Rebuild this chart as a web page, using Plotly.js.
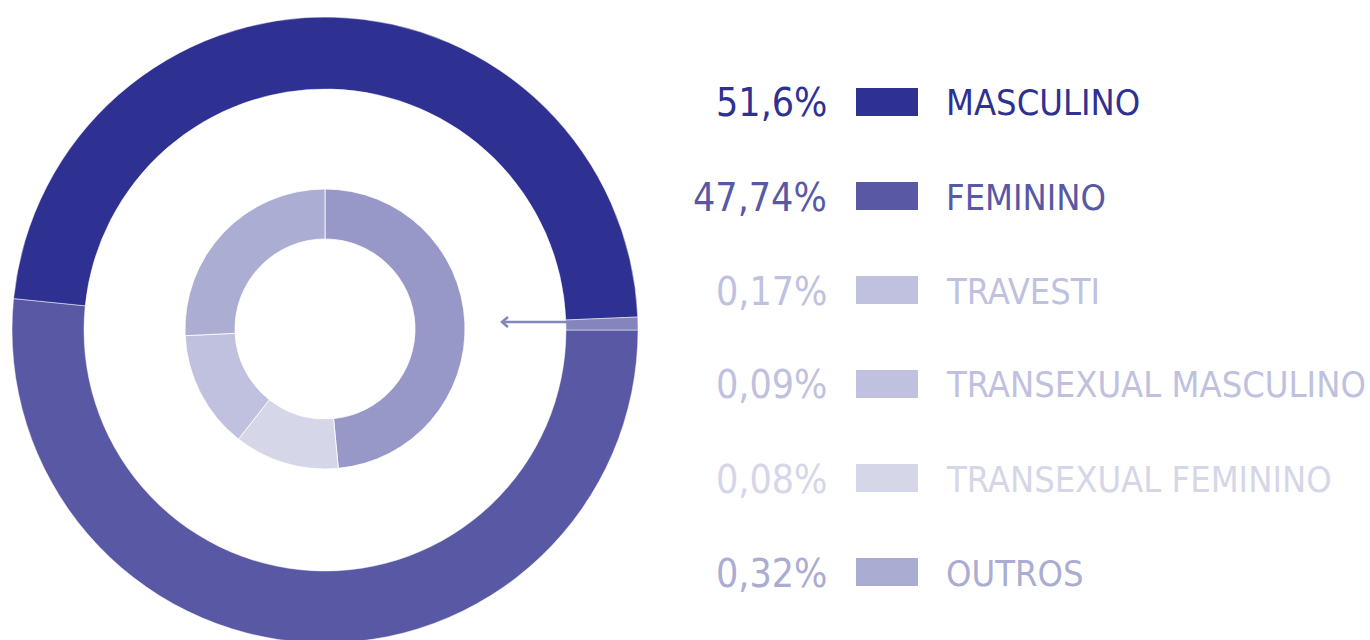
<!DOCTYPE html>
<html>
<head>
<meta charset="utf-8">
<script src="https://cdn.plot.ly/plotly-3.0.1.min.js"></script>
<style>
html,body{margin:0;padding:0;overflow:hidden;background:#fff;}
#chart{width:1370px;height:660px;}
</style>
</head>
<body>
<div id="chart"></div>
<script>
// Outer ring (slices as drawn, clockwise from 3 o'clock)
const outerLabels = ["FEMININO", "MASCULINO", "OUTROS GRUPOS"];
const outerValues = [51.6, 47.74, 0.66];
const outerColors = ["#5858a5", "#2e3192", "#8585bd"];

// Inner ring: breakdown of the small slice (clockwise from 12 o'clock)
const innerLabels = ["OUTROS", "TRANSEXUAL FEMININO", "TRANSEXUAL MASCULINO", "TRAVESTI"];
const innerValues = [0.32, 0.08, 0.09, 0.17];
const innerColors = ["#9797c8", "#d5d6e8", "#c0c1df", "#abadd3"];

// Legend
const legendPcts = ["51,6%", "47,74%", "0,17%", "0,09%", "0,08%", "0,32%"];
const legendLabels = ["MASCULINO", "FEMININO", "TRAVESTI", "TRANSEXUAL MASCULINO", "TRANSEXUAL FEMININO", "OUTROS"];
const legendColors = ["#2e3192", "#5858a5", "#c0c1df", "#c0c1df", "#d5d6e8", "#abacd2"];

const W = 1370, H = 660;
const px = x => x / W;
const py = y => (H - y) / H;
const FONT = "'Liberation Sans Narrow', 'DejaVu Sans Condensed', 'Arial Narrow', 'Liberation Sans', sans-serif";

const outer = {
  type: "pie", labels: outerLabels, values: outerValues,
  marker: {colors: outerColors, line: {color: "rgba(255,255,255,0.6)", width: 0.8}},
  hole: 0.77, sort: false, direction: "clockwise", rotation: 90,
  textinfo: "none", hoverinfo: "label+value", showlegend: false,
  domain: {x: [px(12), px(638)], y: [py(643), py(17)]}
};
const inner = {
  type: "pie", labels: innerLabels, values: innerValues,
  marker: {colors: innerColors, line: {color: "#ffffff", width: 0.8}},
  hole: 0.643, sort: false, direction: "clockwise", rotation: 0,
  textinfo: "none", hoverinfo: "label+value", showlegend: false,
  domain: {x: [px(185), px(465)], y: [py(469), py(189)]}
};

const annotations = [];
const shapes = [];
const rowY0 = 102, rowStep = 94;
legendLabels.forEach((lab, i) => {
  const y = rowY0 + i * rowStep;
  annotations.push({
    xref: "paper", yref: "paper", x: px(829), y: py(y + 1), xanchor: "right", yanchor: "middle",
    text: legendPcts[i], showarrow: false,
    font: {family: FONT, size: 39, color: legendColors[i]}
  });
  annotations.push({
    xref: "paper", yref: "paper", x: px(944), y: py(y + 1), xanchor: "left", yanchor: "middle",
    text: lab, showarrow: false,
    font: {family: FONT, size: 36, color: legendColors[i]}
  });
  shapes.push({
    type: "rect", xref: "paper", yref: "paper",
    x0: px(856), x1: px(918), y0: py(y - 14), y1: py(y + 14),
    fillcolor: legendColors[i], line: {width: 0}
  });
});

// Arrow pointing from the small slice toward the inner ring
shapes.push({
  type: "line", xref: "paper", yref: "paper",
  x0: px(503), x1: px(567), y0: py(322), y1: py(322),
  line: {color: "#8585bd", width: 2.5}
});
shapes.push({
  type: "path", xref: "paper", yref: "paper",
  path: `M ${px(508)} ${py(317)} L ${px(502)} ${py(322)} L ${px(508)} ${py(327)}`,
  line: {color: "#8585bd", width: 2.5}
});

const layout = {
  width: W, height: H,
  margin: {l: 0, r: 0, t: 0, b: 0},
  paper_bgcolor: "#ffffff", plot_bgcolor: "#ffffff",
  showlegend: false,
  annotations: annotations,
  shapes: shapes
};

Plotly.newPlot("chart", [outer, inner], layout, {displayModeBar: false, staticPlot: true});
</script>
</body>
</html>
